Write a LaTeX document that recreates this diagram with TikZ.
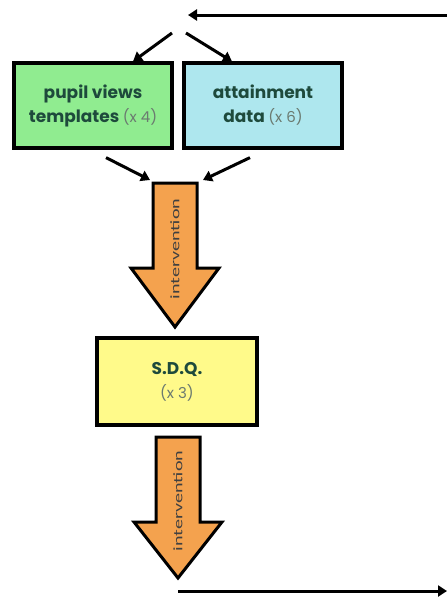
\documentclass[tikz,border=0pt]{standalone}
\usepackage{fontspec}
\setmainfont{Poppins}
\newfontfamily\labelfont[FakeStretch=1.55]{Carlito}
\usetikzlibrary{arrows.meta}
\definecolor{pupilgreen}{HTML}{90EC90}
\definecolor{dataBlue}{HTML}{AEE7EE}
\definecolor{sdqYellow}{HTML}{FFFA8A}
\definecolor{intOrange}{HTML}{F4A24E}
\definecolor{boxText}{HTML}{1E4A3C}
\definecolor{countGrey}{HTML}{6B7A70}
\newcommand{\howmany}[1]{{\fontsize{15}{17}\selectfont\mdseries\color{countGrey}#1}}
% block arrow: centre x, top y, neck y, tip y
\newcommand{\blockarrow}[4]{%
  \draw[intshape] (#1-22,#2) -- (#1+22,#2) -- (#1+22,#3) -- (#1+44,#3)
    -- (#1,#4) -- (#1-44,#3) -- (#1-22,#3) -- cycle;}
\tikzset{
  databox/.style={draw, line width=3.2pt, minimum width=158, minimum height=85, align=center,
    text=boxText, font=\fontsize{17}{24}\selectfont\bfseries},
  flow/.style={line width=3pt, -{Triangle[length=9pt,width=11pt]}},
  intshape/.style={draw, line width=3pt, line join=miter, fill=intOrange},
  intlabel/.style={rotate=90, inner sep=0pt, text=black!75, font=\labelfont\fontsize{13}{15}\selectfont}
}
\begin{document}
\begin{tikzpicture}[x=1pt,y=-1pt]
\useasboundingbox (0,0) rectangle (447,598);
% loop back in at the top
\coordinate (start) at (447,15);
\coordinate (turn) at (188,15);
\coordinate (splitL) at (172,33);
\coordinate (splitR) at (186,33);
\draw[flow] (start) -- (turn);

% the two sources
\node[databox, fill=pupilgreen] (pupil) at (93,105.5) {pupil views\\templates \howmany{(x 4)}};
\node[databox, fill=dataBlue] (attain) at (263,105.5) {attainment\\data \howmany{(x 6)}};
\draw[flow] (splitL) -- (pupil.north -| 133,0);
\draw[flow] (splitR) -- (attain.north -| 232,0);

% first intervention
\blockarrow{175}{183}{268}{327}
\node[intlabel] (int1) at (175,249) {intervention};
\coordinate (into1L) at (150,180);
\coordinate (into1R) at (203,180);
\draw[flow] (pupil.south -| 106,0) ++(0,8) -- (into1L);
\draw[flow] (attain.south -| 250,0) ++(0,8) -- (into1R);

% strengths and difficulties
\node[databox, fill=sdqYellow, minimum width=160, minimum height=87] (sdq) at (177,381.5) {S.D.Q.\\\howmany{(x 3)}};

% second intervention and out
\blockarrow{178}{437}{522}{578}
\node[intlabel] (int2) at (178,501) {intervention};
\coordinate (outL) at (178,591);
\coordinate (finish) at (447,591);
\draw[flow] (outL) -- (finish);
\end{tikzpicture}
\end{document}
